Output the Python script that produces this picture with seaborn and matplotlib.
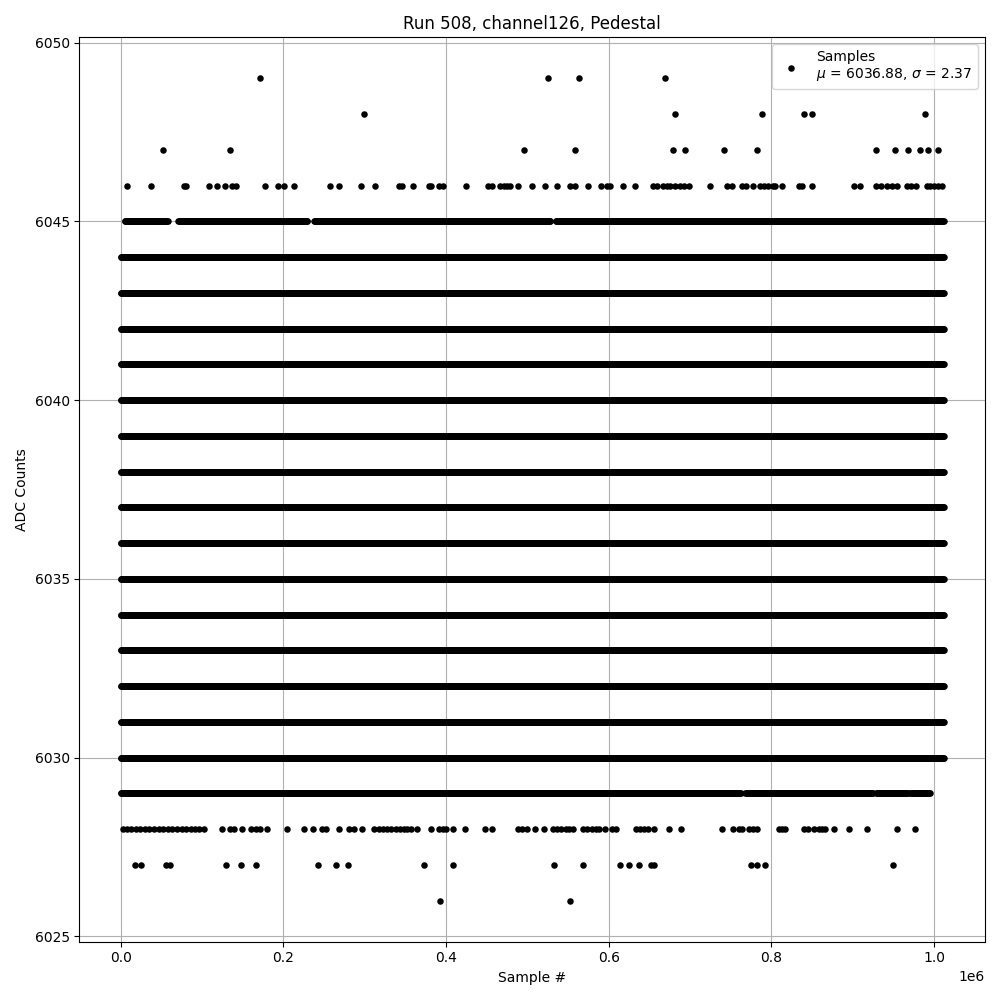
## Pedestal scan: ADC counts per sample for one channel, scatter of all samples
import numpy as np
import pandas as pd
import seaborn as sns
import matplotlib.pyplot as plt

# dense pedestal levels, filled over the whole run (sample # range, in units of 1e6)
dense_levels = [6030, 6031, 6032, 6033, 6034, 6035, 6036, 6037, 6038, 6039, 6040, 6041, 6042, 6043, 6044]
dense_span = [0.0, 1.0123]
dense_step = 0.0008

# semi-dense levels: runs of samples (start, end) in units of 1e6
level_6045_spans = [(0.005, 0.058), (0.071, 0.230), (0.238, 0.529), (0.535, 1.012)]
level_6029_spans = [(0.0, 0.763), (0.768, 0.925), (0.929, 0.968), (0.971, 0.995)]

# sparse outliers: sample positions in units of 1e6
level_6049 = [0.172, 0.526, 0.563, 0.669]
level_6048 = [0.299, 0.681, 0.788, 0.840, 0.850, 0.989]
level_6047 = [0.052, 0.134, 0.496, 0.558, 0.679, 0.694, 0.742, 0.782, 0.929, 0.952,
              0.968, 0.983, 0.993, 1.005]
level_6046 = [0.008, 0.038, 0.078, 0.081, 0.109, 0.118, 0.128, 0.137, 0.142, 0.177,
              0.194, 0.201, 0.213, 0.258, 0.269, 0.295, 0.313, 0.342, 0.346, 0.359,
              0.379, 0.381, 0.391, 0.396, 0.425, 0.452, 0.456, 0.467, 0.471, 0.475,
              0.479, 0.488, 0.506, 0.522, 0.537, 0.552, 0.558, 0.574, 0.590, 0.598,
              0.602, 0.618, 0.632, 0.655, 0.659, 0.667, 0.672, 0.676, 0.682, 0.688,
              0.693, 0.699, 0.725, 0.746, 0.751, 0.764, 0.769, 0.778, 0.786, 0.791,
              0.796, 0.802, 0.805, 0.813, 0.834, 0.838, 0.850, 0.901, 0.909, 0.929,
              0.935, 0.942, 0.948, 0.954, 0.967, 0.972, 0.978, 0.991, 0.995, 1.000,
              1.005, 1.010]
level_6028 = [0.003, 0.008, 0.013, 0.019, 0.024, 0.030, 0.035, 0.041, 0.047, 0.052,
              0.058, 0.063, 0.069, 0.075, 0.080, 0.086, 0.092, 0.097, 0.103,
              0.125, 0.135, 0.139, 0.149, 0.160, 0.167, 0.171, 0.180, 0.205, 0.226,
              0.237, 0.247, 0.252, 0.268, 0.281, 0.287, 0.297,
              0.312, 0.318, 0.323, 0.328, 0.333, 0.338, 0.343, 0.348, 0.352, 0.357,
              0.365, 0.382, 0.391, 0.396, 0.400, 0.409, 0.424, 0.448, 0.456, 0.488,
              0.494, 0.500, 0.510, 0.521, 0.531, 0.537, 0.542, 0.547, 0.551, 0.556,
              0.568, 0.573, 0.579, 0.584, 0.588, 0.595, 0.604, 0.609, 0.633, 0.638,
              0.643, 0.648, 0.656, 0.674, 0.689, 0.739, 0.753, 0.760, 0.764, 0.772,
              0.778, 0.782, 0.809, 0.813, 0.817, 0.840, 0.845, 0.852, 0.858, 0.862,
              0.866, 0.877, 0.896, 0.918, 0.954, 0.976]
level_6027 = [0.018, 0.025, 0.056, 0.061, 0.129, 0.148, 0.166, 0.243, 0.265, 0.280,
              0.373, 0.409, 0.533, 0.569, 0.614, 0.625, 0.637, 0.652, 0.656, 0.775,
              0.782, 0.792, 0.950]
level_6026 = [0.393, 0.553]

mean_adc = 6036.88
sigma_adc = 2.37
run, channel = 508, 126


def build_samples():
    xs, ys = [], []
    for lvl in dense_levels:
        pos = np.arange(dense_span[0], dense_span[1], dense_step)
        xs.append(pos)
        ys.append(np.full(len(pos), lvl))
    for lvl, spans in [(6045, level_6045_spans), (6029, level_6029_spans)]:
        for a, b in spans:
            pos = np.arange(a, b, dense_step)
            xs.append(pos)
            ys.append(np.full(len(pos), lvl))
    for lvl, pos in [(6049, level_6049), (6048, level_6048), (6047, level_6047),
                     (6046, level_6046), (6028, level_6028), (6027, level_6027),
                     (6026, level_6026)]:
        xs.append(np.array(pos))
        ys.append(np.full(len(pos), lvl))
    df = pd.DataFrame({'sample': np.concatenate(xs) * 1e6, 'adc': np.concatenate(ys)})
    return df


df = build_samples()

fig, ax = plt.subplots(figsize=(10, 10))
ax.set_axisbelow(True)
ax.grid(True)
sns.scatterplot(data=df, x='sample', y='adc', color='k', s=22, linewidth=0,
                label='Samples\n$\\mu$ = {:.2f}, $\\sigma$ = {:.2f}'.format(mean_adc, sigma_adc), ax=ax)
ax.set_xlabel('Sample #')
ax.set_ylabel('ADC Counts')
ax.set_title('Run {}, channel{}, Pedestal'.format(run, channel))
ax.legend(loc='upper right')

fig.tight_layout()
plt.savefig('out.png', dpi=100)
